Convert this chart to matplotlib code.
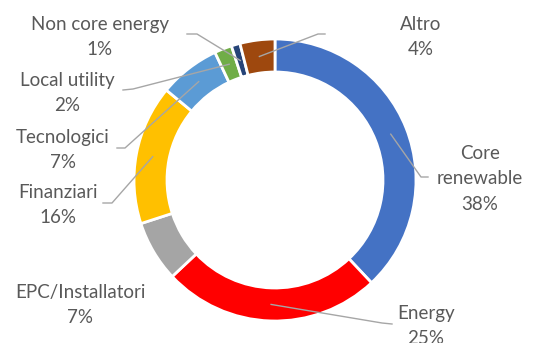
import numpy as np
import matplotlib.pyplot as plt

# data
labels = ["Core\nrenewable", "Energy", "EPC/Installatori", "Finanziari",
          "Tecnologici", "Local utility", "Non core energy", "Altro"]
shares = [38, 25, 7, 16, 7, 2, 1, 4]
colors = ["#4472C4", "#FF0000", "#A5A5A5", "#FFC000",
          "#5B9BD5", "#70AD47", "#264478", "#9E480E"]

W, H = 534, 343
cx, cy, R, ring = 275, 180, 141, 33

# label layout (pixel coords from top-left): text centre, leader elbow start
text_pos = [(480, 179), (426, 326), (80, 305), (58, 205),
            (63, 150), (67, 93), (100, 37), (421, 37)]
leader = [[(428, 177), (421, 177)],
          [(392, 324), (382, 323)],
          None,
          [(103, 203), (112, 203)],
          [(117, 148), (125, 148)],
          [(123, 90), (133, 89)],
          [(187, 34), (197, 34)],
          [(325, 34), (318, 34)]]

plt.rcParams['font.family'] = ['Lato', 'DejaVu Sans']

fig = plt.figure(figsize=(W / 100, H / 100), dpi=100)
ax = fig.add_axes([0, 0, 1, 1])

def fy(y):
    return H - y

ax.pie(shares, colors=colors, startangle=90, counterclock=False,
       center=(cx, fy(cy)), radius=R, frame=True,
       wedgeprops=dict(width=ring, edgecolor='white', linewidth=2))
ax.set_xlim(0, W)
ax.set_ylim(0, H)
ax.set_aspect('equal')
ax.axis('off')

total = sum(shares)
cum = np.cumsum([0] + shares)
rmid = R - ring / 2
for i, lab in enumerate(labels):
    frac = (cum[i] + shares[i] / 2) / total
    ang = np.deg2rad(90 - 360 * frac)
    px = cx + rmid * np.cos(ang)
    py = fy(cy) + rmid * np.sin(ang)
    tx, ty = text_pos[i]
    ax.text(tx, fy(ty), f"{lab}\n{shares[i]}%", ha='center', va='center',
            fontsize=13.5, color='#595959', linespacing=1.6)
    if leader[i] is not None:
        (x0, y0), (x1, y1) = leader[i]
        ax.plot([x0, x1, px], [fy(y0), fy(y1), py], color='#A6A6A6', lw=1)

fig.savefig('out.png', dpi=100)
